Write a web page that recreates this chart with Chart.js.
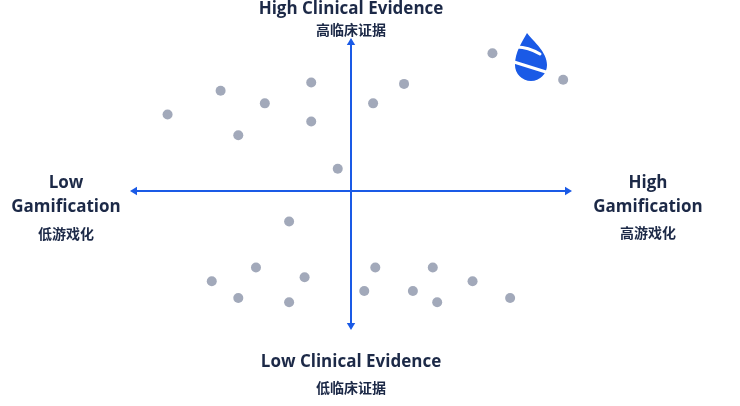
<!DOCTYPE html>
<html>
<head>
<meta charset="utf-8">
<script src="https://cdn.jsdelivr.net/npm/chart.js@4"></script>
<style>
  html, body { margin: 0; padding: 0; background: #fff; }
  #wrap { width: 740px; height: 406px; position: relative; }
</style>
</head>
<body>
<div id="wrap"><canvas id="quad"></canvas></div>
<script>
// gamification (x) vs clinical evidence (y), centre = 0
const xValues = [-8.3, -5.9, -3.9, -1.8, -5.1, -1.8, -0.6,
                 6.4, 2.4, 1.0, 9.6,
                 -2.8, -4.3, -6.3, -5.1, -2.1, -2.8,
                 1.1, 3.7, 0.6, 2.8, 5.5, 3.9, 7.2];
const yValues = [5.5, 7.2, 6.3, 7.8, 4.0, 5.0, 1.6,
                 9.9, 7.7, 6.3, 8.0,
                 -2.2, -5.5, -6.5, -7.7, -6.2, -8.0,
                 -5.5, -5.5, -7.2, -7.2, -6.5, -8.0, -7.7];

const axisLabels = {
  top: ['High Clinical Evidence', '高临床证据'],
  bottom: ['Low Clinical Evidence', '低临床证据'],
  left: ['Low', 'Gamification', '低游戏化'],
  right: ['High', 'Gamification', '高游戏化']
};

const points = xValues.map((x, i) => ({ x: x, y: yValues[i] }));

const blue = '#1a5ae6';
const ink = '#1c2947';
const latin = 'bold 17px "Open Sans"';
const cjk = 'bold 14px "Noto Sans CJK SC"';

function arrowHead(ctx, x, y, dir) {
  // dir: angle the arrow points to
  const s = 7;
  ctx.save();
  ctx.translate(x, y);
  ctx.rotate(dir);
  ctx.beginPath();
  ctx.moveTo(0, 0);
  ctx.lineTo(-s, -s * 0.6);
  ctx.lineTo(-s, s * 0.6);
  ctx.closePath();
  ctx.fill();
  ctx.restore();
}

const quadrantPlugin = {
  id: 'quadrant',
  beforeDatasetsDraw(chart) {
    const { ctx, chartArea: a, scales } = chart;
    const cx = scales.x.getPixelForValue(0);
    const cy = scales.y.getPixelForValue(0);
    ctx.save();
    ctx.strokeStyle = blue;
    ctx.fillStyle = blue;
    ctx.lineWidth = 2;
    ctx.beginPath();
    ctx.moveTo(a.left + 4, cy);
    ctx.lineTo(a.right - 4, cy);
    ctx.moveTo(cx, a.top + 4);
    ctx.lineTo(cx, a.bottom - 4);
    ctx.stroke();
    arrowHead(ctx, a.left, cy, Math.PI);
    arrowHead(ctx, a.right, cy, 0);
    arrowHead(ctx, cx, a.top, -Math.PI / 2);
    arrowHead(ctx, cx, a.bottom, Math.PI / 2);

    ctx.fillStyle = ink;
    ctx.textAlign = 'center';
    ctx.textBaseline = 'middle';
    ctx.font = latin;
    ctx.fillText(axisLabels.top[0], cx, 9);
    ctx.fillText(axisLabels.bottom[0], cx, 362);
    ctx.fillText(axisLabels.left[0], 66, 183);
    ctx.fillText(axisLabels.left[1], 66, 207);
    ctx.fillText(axisLabels.right[0], 648, 183);
    ctx.fillText(axisLabels.right[1], 648, 207);
    ctx.font = cjk;
    ctx.fillText(axisLabels.top[1], cx, 30);
    ctx.fillText(axisLabels.bottom[1], cx, 388);
    ctx.fillText(axisLabels.left[2], 66, 234);
    ctx.fillText(axisLabels.right[2], 648, 233);

    // logo drop
    ctx.fillStyle = blue;
    ctx.beginPath();
    ctx.moveTo(527, 33);
    ctx.bezierCurveTo(534, 42, 547, 52, 547, 65);
    ctx.arc(531, 65, 16, 0, Math.PI, false);
    ctx.bezierCurveTo(515, 52, 522, 42, 527, 33);
    ctx.fill();
    ctx.strokeStyle = '#fff';
    ctx.lineWidth = 3;
    ctx.lineCap = 'round';
    ctx.beginPath();
    ctx.moveTo(517, 47);
    ctx.quadraticCurveTo(528, 47, 540, 54);
    ctx.moveTo(514, 62);
    ctx.lineTo(546, 72);
    ctx.stroke();
    ctx.restore();
  }
};

new Chart(document.getElementById('quad'), {
  type: 'scatter',
  data: {
    datasets: [{
      data: points,
      backgroundColor: '#a2a9ba',
      borderWidth: 0,
      pointRadius: 5,
      pointHoverRadius: 5,
      clip: false
    }]
  },
  options: {
    responsive: true,
    maintainAspectRatio: false,
    animation: false,
    layout: { padding: { left: 130, right: 168, top: 38, bottom: 76 } },
    plugins: { legend: { display: false }, tooltip: { enabled: false } },
    scales: {
      x: { display: false, min: -10, max: 10 },
      y: { display: false, min: -10, max: 11 }
    }
  },
  plugins: [quadrantPlugin]
});
</script>
</body>
</html>
